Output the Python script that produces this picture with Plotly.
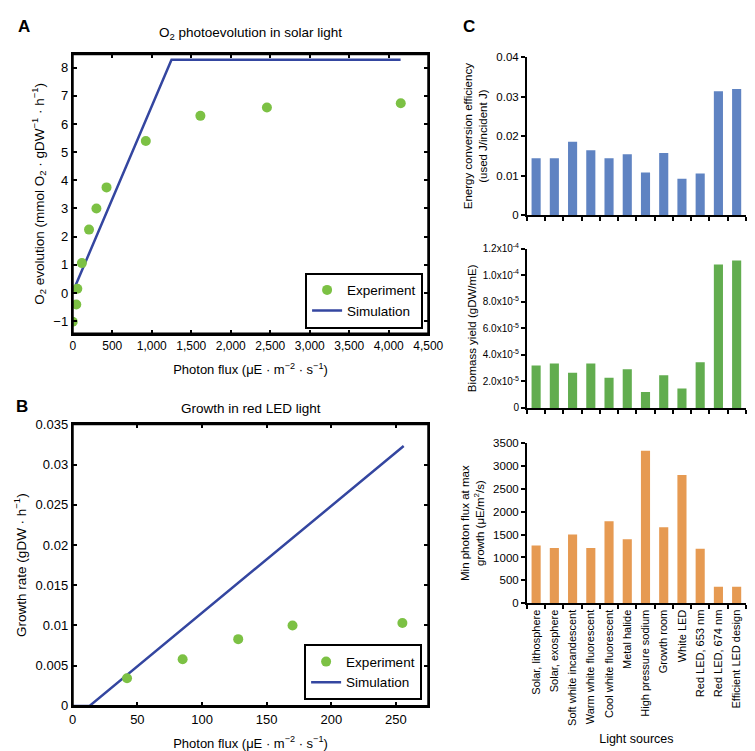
import plotly.graph_objects as go

W, H = 755, 751
FONT = "Arial, Liberation Sans, sans-serif"

# ---- Panel A data ----
a_exp_x = [0, 45, 58, 116, 206, 300, 428, 925, 1616, 2458, 4152]
a_exp_y = [-1.02, -0.41, 0.15, 1.06, 2.25, 3.0, 3.75, 5.4, 6.29, 6.59, 6.74]
a_sim_x = [10, 1250, 4150]
a_sim_y = [0.1, 8.28, 8.28]
a_xticks = [0, 500, 1000, 1500, 2000, 2500, 3000, 3500, 4000, 4500]
a_xlabels = ["0", "500", "1,000", "1,500", "2,000", "2,500", "3,000", "3,500", "4,000", "4,500"]
a_yticks = [-1, 0, 1, 2, 3, 4, 5, 6, 7, 8]
a_ylabels = ["\u22121", "0", "1", "2", "3", "4", "5", "6", "7", "8"]

# ---- Panel B data ----
b_exp_x = [42, 85, 128, 170, 255]
b_exp_y = [0.00345, 0.0058, 0.0083, 0.0100, 0.0103]
b_sim_x = [0, 13, 256]
b_sim_y = [0, 0, 0.0323]
b_xticks = [0, 50, 100, 150, 200, 250]
b_yticks = [0, 0.005, 0.01, 0.015, 0.02, 0.025, 0.03, 0.035]
b_ylabels = ["0", "0.005", "0.01", "0.015", "0.02", "0.025", "0.03", "0.035"]

# ---- Panel C data ----
sources = ["Solar, lithosphere", "Solar, exosphere", "Soft white incandescent",
           "Warm white fluorescent", "Cool white fluorescent", "Metal halide",
           "High pressure sodium", "Growth room", "White LED", "Red LED, 653 nm",
           "Red LED, 674 nm", "Efficient LED design"]
efficiency = [0.0144, 0.0144, 0.0186, 0.0164, 0.0144, 0.0154, 0.0108, 0.0157,
              0.0092, 0.0105, 0.0314, 0.0320]
biomass = [3.2e-5, 3.35e-5, 2.65e-5, 3.35e-5, 2.28e-5, 2.92e-5, 1.2e-5, 2.46e-5,
           1.46e-5, 3.45e-5, 1.08e-4, 1.11e-4]
min_flux = [1260, 1210, 1500, 1210, 1790, 1400, 3330, 1660, 2800, 1190, 360, 360]
eff_ticks = [0, 0.01, 0.02, 0.03, 0.04]
eff_labels = ["0", "0.01", "0.02", "0.03", "0.04"]
bio_ticks = [0, 2e-5, 4e-5, 6e-5, 8e-5, 1e-4, 1.2e-4]
bio_labels = ["0", "2.0x10<sup>-5</sup>", "4.0x10<sup>-5</sup>", "6.0x10<sup>-5</sup>",
              "8.0x10<sup>-5</sup>", "1.0x10<sup>-4</sup>", "1.2x10<sup>-4</sup>"]
flux_ticks = [0, 500, 1000, 1500, 2000, 2500, 3000, 3500]

GREEN_PT = "#7cc144"
BLUE_LINE = "#3446a0"
BAR_BLUE = "#5f83c2"
BAR_GREEN = "#62ad4f"
BAR_ORANGE = "#e69a52"


def dx(p):
    return p / W


def dy(p):
    return 1 - p / H


fig = go.Figure()

# Panel A
fig.add_trace(go.Scatter(x=a_sim_x, y=a_sim_y, mode="lines", name="Simulation",
                         line=dict(color=BLUE_LINE, width=2.5), xaxis="x", yaxis="y",
                         legend="legend", legendrank=2))
fig.add_trace(go.Scatter(x=a_exp_x, y=a_exp_y, mode="markers", name="Experiment",
                         marker=dict(color=GREEN_PT, size=10), xaxis="x", yaxis="y",
                         legend="legend", legendrank=1))
# Panel B
fig.add_trace(go.Scatter(x=b_sim_x, y=b_sim_y, mode="lines", name="Simulation",
                         line=dict(color=BLUE_LINE, width=2.5), xaxis="x2", yaxis="y2",
                         legend="legend2", legendrank=2))
fig.add_trace(go.Scatter(x=b_exp_x, y=b_exp_y, mode="markers", name="Experiment",
                         marker=dict(color=GREEN_PT, size=10), xaxis="x2", yaxis="y2",
                         legend="legend2", legendrank=1))
# Panel C
fig.add_trace(go.Bar(x=sources, y=efficiency, marker=dict(color=BAR_BLUE, line=dict(width=0)),
                     xaxis="x3", yaxis="y3", showlegend=False))
fig.add_trace(go.Bar(x=sources, y=biomass, marker=dict(color=BAR_GREEN, line=dict(width=0)),
                     xaxis="x4", yaxis="y4", showlegend=False))
fig.add_trace(go.Bar(x=sources, y=min_flux, marker=dict(color=BAR_ORANGE, line=dict(width=0)),
                     xaxis="x5", yaxis="y5", showlegend=False))

box_ax = dict(showline=True, linecolor="black", linewidth=2, mirror="allticks",
              ticks="inside", ticklen=4, tickwidth=2, tickcolor="black",
              showgrid=False, zeroline=False)

xA = [dx(62.3), dx(427)]
title_x = dict(text="Photon flux (\u03bcE \u00b7 m<sup>\u22122</sup> \u00b7 s<sup>\u22121</sup>)",
               font=dict(size=13, color="black"), standoff=13)

fig.update_layout(
    xaxis=dict(domain=xA, anchor="y", range=[0, 4500], tickvals=a_xticks, ticktext=a_xlabels,
               tickfont=dict(size=12, color="black"), title=title_x, **box_ax),
    yaxis=dict(domain=[dy(325), dy(40)], anchor="x", range=[-1.44, 8.48],
               tickvals=a_yticks, ticktext=a_ylabels, tickfont=dict(size=13, color="black"),
               title=dict(text="O<sub>2</sub> evolution (mmol O<sub>2</sub> \u00b7 gDW<sup>\u22121</sup> \u00b7 h<sup>\u22121</sup>)",
                          font=dict(size=13.5, color="black"), standoff=6),
               **box_ax),
    xaxis2=dict(domain=xA, anchor="y2", range=[0, 275], tickvals=b_xticks,
                tickfont=dict(size=13, color="black"), title=title_x, **box_ax),
    yaxis2=dict(domain=[dy(705), dy(417.7)], anchor="x2", range=[0, 0.035],
                tickvals=b_yticks, ticktext=b_ylabels, tickfont=dict(size=13, color="black"),
                title=dict(text="Growth rate (gDW \u00b7 h<sup>\u22121</sup>)",
                           font=dict(size=13.5, color="black"), standoff=6),
                **box_ax),
)

xC = [dx(528.3), dx(752.7)]
bar_x = dict(domain=xC, showline=True, linecolor="black", linewidth=2, ticks="outside",
             ticklen=4, tickwidth=2, tickcolor="black", tickson="boundaries",
             showgrid=False, zeroline=False, range=[-0.5, 11.5])
bar_y = dict(showline=True, linecolor="black", linewidth=2, ticks="outside", ticklen=4,
             tickwidth=2, tickcolor="black", showgrid=False, zeroline=False)

fig.update_layout(
    xaxis3=dict(anchor="y3", showticklabels=False, **bar_x),
    yaxis3=dict(domain=[dy(204), dy(43.3)], anchor="x3", range=[0, 0.04], tickvals=eff_ticks,
                ticktext=eff_labels, tickfont=dict(size=11.5, color="black"),
                title=dict(text="Energy conversion efficiency<br>(used J/incident J)",
                           font=dict(size=11.5, color="black"), standoff=6), **bar_y),
    xaxis4=dict(anchor="y4", showticklabels=False, **bar_x),
    yaxis4=dict(domain=[dy(401), dy(238.3)], anchor="x4", range=[0, 1.2e-4], tickvals=bio_ticks,
                ticktext=bio_labels, tickfont=dict(size=10, color="black"),
                title=dict(text="Biomass yield (gDW/mE)", font=dict(size=11.5, color="black"),
                           standoff=4), **bar_y),
    xaxis5=dict(anchor="y5", showticklabels=True, tickangle=-90,
                tickfont=dict(size=11, color="black"),
                title=dict(text="Light sources", font=dict(size=12.5, color="black"), standoff=9),
                **bar_x),
    yaxis5=dict(domain=[dy(600.3), dy(436.7)], anchor="x5", range=[0, 3500], tickvals=flux_ticks,
                tickfont=dict(size=11.5, color="black"),
                title=dict(text="Min photon flux at max<br>growth (\u03bcE/m<sup>2</sup>/s)",
                           font=dict(size=11.5, color="black"), standoff=6), **bar_y),
)

# full black frames around panels A and B
for xr, yr in (("x", "y"), ("x2", "y2")):
    fig.add_shape(type="rect", xref=f"{xr} domain", yref=f"{yr} domain",
                  x0=0, x1=1, y0=0, y1=1, line=dict(color="black", width=2),
                  fillcolor="rgba(0,0,0,0)", layer="above")

leg = dict(bordercolor="black", borderwidth=2, bgcolor="white",
           font=dict(size=13.5, color="black"), xanchor="right", yanchor="bottom",
           traceorder="normal", tracegroupgap=0, itemwidth=30)
fig.update_layout(
    legend=dict(x=dx(421.7), y=dy(320), **leg),
    legend2=dict(x=dx(420.7), y=dy(699.3), **leg),
)

anns = [
    dict(text="O<sub>2</sub> photoevolution in solar light", x=dx(245), y=dy(19), size=13.5),
    dict(text="Growth in red LED light", x=dx(245), y=dy(402), size=13.5),
    dict(text="<b>A</b>", x=dx(12), y=dy(12), size=17),
    dict(text="<b>B</b>", x=dx(10), y=dy(399), size=17),
    dict(text="<b>C</b>", x=dx(469), y=dy(12), size=17),
]
for a in anns:
    fig.add_annotation(text=a["text"], x=a["x"], y=a["y"], xref="paper", yref="paper",
                       showarrow=False, xanchor="center", yanchor="middle",
                       font=dict(size=a["size"], color="black", family=FONT))

fig.update_layout(
    width=W, height=H, margin=dict(l=0, r=0, t=0, b=0),
    paper_bgcolor="white", plot_bgcolor="white",
    font=dict(family=FONT, color="black"),
    bargap=0.5,
)

fig.write_html("out.html")
